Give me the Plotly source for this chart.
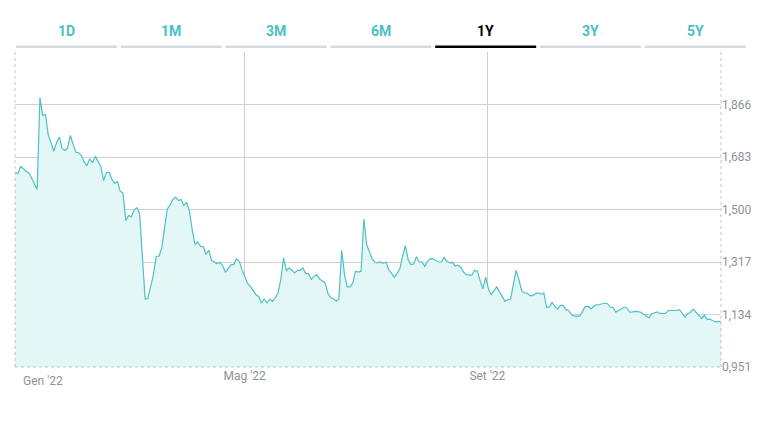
import pandas as pd
import plotly.graph_objects as go

# ---- data ----
values = [
    1.630, 1.625, 1.649, 1.643, 1.633, 1.628, 1.610, 1.591, 1.570, 1.890,
    1.828, 1.831, 1.761, 1.733, 1.703, 1.733, 1.752, 1.713, 1.706, 1.715,
    1.758, 1.727, 1.700, 1.698, 1.688, 1.665, 1.653, 1.677, 1.663, 1.686,
    1.665, 1.649, 1.601, 1.628, 1.630, 1.605, 1.591, 1.598, 1.564, 1.558,
    1.461, 1.479, 1.474, 1.497, 1.506, 1.486, 1.336, 1.188, 1.190, 1.232,
    1.273, 1.337, 1.337, 1.366, 1.442, 1.502, 1.515, 1.535, 1.543, 1.531,
    1.535, 1.514, 1.525, 1.494, 1.430, 1.378, 1.387, 1.372, 1.370, 1.343,
    1.358, 1.322, 1.317, 1.311, 1.316, 1.304, 1.282, 1.293, 1.308, 1.308,
    1.328, 1.319, 1.290, 1.262, 1.242, 1.232, 1.218, 1.203, 1.197, 1.174,
    1.188, 1.174, 1.188, 1.180, 1.192, 1.209, 1.256, 1.331, 1.288, 1.296,
    1.288, 1.279, 1.288, 1.288, 1.296, 1.277, 1.277, 1.256, 1.267, 1.273,
    1.258, 1.250, 1.244, 1.209, 1.192, 1.189, 1.180, 1.189, 1.358, 1.273,
    1.230, 1.230, 1.244, 1.285, 1.282, 1.285, 1.467, 1.378, 1.354, 1.328,
    1.316, 1.314, 1.317, 1.312, 1.317, 1.290, 1.277, 1.264, 1.277, 1.293,
    1.337, 1.374, 1.325, 1.308, 1.310, 1.335, 1.317, 1.317, 1.302, 1.319,
    1.329, 1.328, 1.322, 1.317, 1.317, 1.333, 1.319, 1.314, 1.316, 1.302,
    1.306, 1.299, 1.282, 1.273, 1.271, 1.271, 1.288, 1.285, 1.252, 1.223,
    1.264, 1.223, 1.203, 1.215, 1.230, 1.213, 1.195, 1.180, 1.186, 1.188,
    1.238, 1.288, 1.256, 1.218, 1.209, 1.209, 1.200, 1.200, 1.207, 1.209,
    1.204, 1.209, 1.160, 1.160, 1.176, 1.162, 1.153, 1.166, 1.166, 1.151,
    1.148, 1.133, 1.128, 1.128, 1.128, 1.145, 1.162, 1.162, 1.154, 1.162,
    1.168, 1.168, 1.172, 1.174, 1.171, 1.160, 1.159, 1.142, 1.148, 1.153,
    1.160, 1.157, 1.142, 1.143, 1.145, 1.144, 1.142, 1.136, 1.130, 1.122,
    1.137, 1.139, 1.143, 1.137, 1.139, 1.139, 1.148, 1.148, 1.146, 1.148,
    1.151, 1.139, 1.125, 1.137, 1.142, 1.153, 1.142, 1.131, 1.120, 1.131,
    1.116, 1.118, 1.113, 1.108, 1.110, 1.108,
]
start_date = "2022-01-04 14:00"
end_date = "2022-12-28 10:00"
dates = pd.date_range(start_date, end_date, periods=len(values))

y_ticks = [0.951, 1.134, 1.317, 1.500, 1.683, 1.866]
y_ticktext = ["0,951", "1,134", "1,317", "1,500", "1,683", "1,866"]
y_max = 2.049

x_tickvals = ["2022-05-01", "2022-09-01"]
x_ticktext = ["Mag '22", "Set '22"]
first_label = "Gen '22"

periods = ["1D", "1M", "3M", "6M", "1Y", "3Y", "5Y"]
active_period = "1Y"

# ---- styling ----
W, H = 778, 421
ML, MR, MT, MB = 15, 57, 52, 54
PW, PH = W - ML - MR, H - MT - MB
TEAL = "#4fc0c4"
FILL = "#e3f7f7"
GRID = "#d2d2d2"
LABEL = "#8e9399"
FONT = "Roboto, Arial, sans-serif"


def px_x(px):
    return (px - ML) / PW


def px_y(py):
    return (H - MB - py) / PH


fig = go.Figure()
fig.add_trace(go.Scatter(
    x=dates, y=values, mode="lines",
    line=dict(color=TEAL, width=1.2),
    fill="tozeroy", fillcolor=FILL,
    hoverinfo="skip",
))

shapes = []
# dotted frame: left, right, bottom
for x0, y0, x1, y1 in [(0, 0, 0, 1), (1, 0, 1, 1), (0, 0, 1, 0)]:
    shapes.append(dict(type="line", xref="paper", yref="paper",
                       x0=x0, y0=y0, x1=x1, y1=y1,
                       line=dict(color="#c4c4c4", width=1, dash="dot"),
                       layer="above"))

annotations = [dict(text=first_label, xref="paper", yref="paper",
                    x=px_x(21), y=px_y(372), xanchor="left", yanchor="top",
                    showarrow=False, font=dict(family=FONT, size=12, color=LABEL))]

# period selector tabs
tab_start, tab_pitch, tab_w = 16, 104.8, 101
for i, p in enumerate(periods):
    x0 = tab_start + i * tab_pitch
    x1 = x0 + tab_w
    active = p == active_period
    shapes.append(dict(type="rect", xref="paper", yref="paper",
                       x0=px_x(x0), x1=px_x(x1), y0=px_y(48), y1=px_y(45.5),
                       fillcolor="#000000" if active else "#d6dadf",
                       line=dict(width=0)))
    annotations.append(dict(text="<b>%s</b>" % p, xref="paper", yref="paper",
                            x=px_x((x0 + x1) / 2), y=px_y(31),
                            xanchor="center", yanchor="middle", showarrow=False,
                            font=dict(family=FONT, size=14,
                                      color="#000000" if active else "#4bbfc5")))

fig.update_layout(
    width=W, height=H,
    margin=dict(l=ML, r=MR, t=MT, b=MB, pad=0),
    paper_bgcolor="white", plot_bgcolor="white",
    showlegend=False,
    shapes=shapes, annotations=annotations,
    xaxis=dict(
        type="date", range=[dates[0], dates[-1]],
        tickvals=x_tickvals, ticktext=x_ticktext,
        showgrid=True, gridcolor="#cfcfcf", gridwidth=1,
        zeroline=False, showline=False, ticks="",
        tickfont=dict(family=FONT, size=12, color=LABEL),
    ),
    yaxis=dict(
        side="right", range=[0.951, y_max],
        tickvals=y_ticks, ticktext=y_ticktext,
        showgrid=True, gridcolor=GRID, gridwidth=1,
        zeroline=False, showline=False, ticks="",
        tickfont=dict(family=FONT, size=12, color=LABEL),
    ),
)

fig.write_html("out.html")
